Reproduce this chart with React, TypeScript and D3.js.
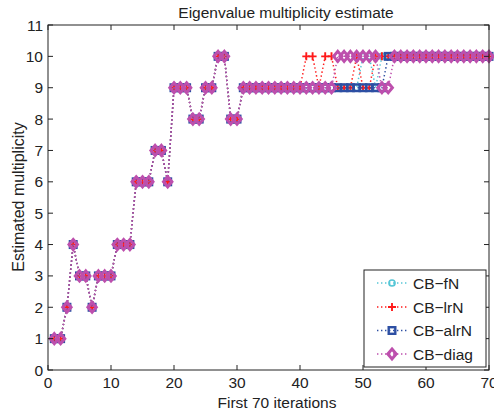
import React from "react";
import * as d3 from "d3";

const iterations = d3.range(1, 71);
const seriesNames = ["CB\u2212fN", "CB\u2212lrN", "CB\u2212alrN", "CB\u2212diag"];

const fN = [1,1,2,4,3,3,2,3,3,3, 4,4,4,6,6,6,7,7,6,9, 9,9,8,8,9,9,10,10,8,8,
  9,9,9,9,9,9,9,9,9,9, 9,9,9,9,9,9,9,9,9,10, 10,9,10,10,10,10,10,10,10,10,
  10,10,10,10,10,10,10,10,10,10];
const lrN = [1,1,2,4,3,3,2,3,3,3, 4,4,4,6,6,6,7,7,6,9, 9,9,8,8,9,9,10,10,8,8,
  9,9,9,9,9,9,9,9,9,9, 10,10,9,10,10,9,9,9,10,9, 9,10,10,10,10,10,10,10,10,10,
  10,10,10,10,10,10,10,10,10,10];
const alrN = [1,1,2,4,3,3,2,3,3,3, 4,4,4,6,6,6,7,7,6,9, 9,9,8,8,9,9,10,10,8,8,
  9,9,9,9,9,9,9,9,9,9, 9,9,9,9,9,9,9,9,9,9, 9,9,9,10,10,10,10,10,10,10,
  10,10,10,10,10,10,10,10,10,10];
const diag = [1,1,2,4,3,3,2,3,3,3, 4,4,4,6,6,6,7,7,6,9, 9,9,8,8,9,9,10,10,8,8,
  9,9,9,9,9,9,9,9,9,9, 9,9,9,9,9,10,10,10,10,10, 10,10,9,9,10,10,10,10,10,10,
  10,10,10,10,10,10,10,10,10,10];

const xTicks = [0, 10, 20, 30, 40, 50, 60, 70];
const yTicks = [0, 1, 2, 3, 4, 5, 6, 7, 8, 9, 10, 11];

const colors = ["#55c6d6", "#ff1a1a", "#2d4fa3", "#bd4fad"];
const markers = ["circle", "plus", "square", "diamond"];

const FONT = "'Liberation Sans', Arial, Helvetica, sans-serif";

function Marker({ type, x, y, color }: { type: string; x: number; y: number; color: string }) {
  if (type === "circle")
    return <circle cx={x} cy={y} r={3} fill="none" stroke={color} strokeWidth={1.7} />;
  if (type === "plus")
    return (
      <path d={`M${x - 4},${y}H${x + 4}M${x},${y - 4}V${y + 4}`} stroke={color} strokeWidth={1.9} fill="none" />
    );
  if (type === "square")
    return <rect x={x - 3.3} y={y - 3.3} width={6.6} height={6.6} fill="none" stroke={color} strokeWidth={2.4} />;
  return (
    <path d={`M${x},${y - 5}L${x + 4.2},${y}L${x},${y + 5}L${x - 4.2},${y}Z`} fill="none" stroke={color} strokeWidth={3} />
  );
}

export default function App() {
  const W = 494, H = 415;
  const left = 48, right = 489, top = 25, bottom = 370;
  const x = d3.scaleLinear().domain([0, 70]).range([left, right]);
  const y = d3.scaleLinear().domain([0, 11]).range([bottom, top]);
  const allSeries = [fN, lrN, alrN, diag];
  const line = d3
    .line<number>()
    .x((_, i) => x(iterations[i]))
    .y((d) => y(d));

  const legX = 364, legY = 270, legW = 122, legH = 97;
  const legRows = [283, 307, 330.5, 354];

  return (
    <svg width={W} height={H} style={{ position: "absolute", left: 0, top: 0 }} fontFamily={FONT}>
      <rect x={0} y={0} width={W} height={H} fill="#fff" />
      {allSeries.map((s, k) => (
        <g key={k}>
          <path d={line(s) || ""} fill="none" stroke={colors[k]} strokeWidth={1.5} strokeDasharray="1.4 2.6" />
          {s.map((v, i) => (
            <Marker key={i} type={markers[k]} x={x(iterations[i])} y={y(v)} color={colors[k]} />
          ))}
        </g>
      ))}
      {/* frame */}
      <rect x={left} y={top} width={right - left} height={bottom - top} fill="none" stroke="#222" strokeWidth={1} />
      {xTicks.map((t) => (
        <g key={"x" + t}>
          <line x1={x(t)} x2={x(t)} y1={bottom} y2={bottom - 5} stroke="#222" />
          <line x1={x(t)} x2={x(t)} y1={top} y2={top + 5} stroke="#222" />
          <text x={x(t)} y={388} textAnchor="middle" fontSize={15.5} fill="#222">
            {t}
          </text>
        </g>
      ))}
      {yTicks.map((t) => (
        <g key={"y" + t}>
          <line x1={left} x2={left + 5} y1={y(t)} y2={y(t)} stroke="#222" />
          <line x1={right} x2={right - 5} y1={y(t)} y2={y(t)} stroke="#222" />
          <text x={43} y={y(t)} dy="0.36em" textAnchor="end" fontSize={15.5} fill="#222">
            {t}
          </text>
        </g>
      ))}
      <text x={286} y={18} textAnchor="middle" fontSize={15.5} fill="#222">
        Eigenvalue multiplicity estimate
      </text>
      <text x={277} y={408} textAnchor="middle" fontSize={15.5} fill="#222">
        First 70 iterations
      </text>
      <text transform="translate(24,197) rotate(-90)" textAnchor="middle" fontSize={16} fill="#222">
        Estimated multiplicity
      </text>
      {/* legend */}
      <rect x={legX} y={legY} width={legW} height={legH} fill="#fff" stroke="#222" strokeWidth={1} />
      {seriesNames.map((n, k) => (
        <g key={n}>
          <line x1={377} x2={407} y1={legRows[k]} y2={legRows[k]} stroke={colors[k]} strokeWidth={1.5} strokeDasharray="1.4 2.6" />
          <Marker type={markers[k]} x={392} y={legRows[k]} color={colors[k]} />
          <text x={413} y={legRows[k]} dy="0.36em" fontSize={15.5} fill="#222">
            {n}
          </text>
        </g>
      ))}
    </svg>
  );
}
